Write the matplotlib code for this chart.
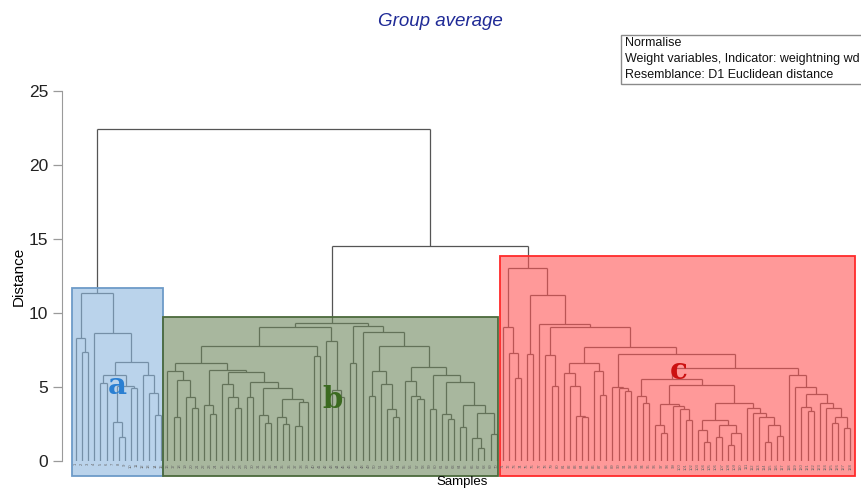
import matplotlib
matplotlib.use('Agg')
import matplotlib.pyplot as plt
from matplotlib.collections import LineCollection
from matplotlib.patches import Rectangle

plt.rcParams['font.family'] = ['Liberation Sans', 'DejaVu Sans']

# Dendrogram nodes are [distance, left, right]; a leaf is 0
a_left = [8.29, 0, [7.39, 0, 0]]
a_right = [8.67, 0,
           [6.71,
            [5.81, [5.3, 0, 0], [5.07, [2.66, 0, [1.64, 0, 0]], [4.91, 0, 0]]],
            [5.81, 0, [4.57, 0, [3.11, 0, 0]]]]]
clust_a = [11.33, a_left, a_right]

b_11 = [6.08, 0, [5.47, [2.95, 0, 0], [4.35, 0, [3.6, 0, 0]]]]
b_12 = [6.15, [3.78, 0, [3.2, 0, 0]],
        [6.04, [5.2, 0, [4.3, 0, [3.56, 0, 0]]],
         [5.36, [4.35, 0, 0],
          [4.9, [3.1, 0, [2.55, 0, 0]],
           [4.17, [2.95, 0, [2.5, 0, 0]], [4.0, [2.35, 0, 0], 0]]]]]]
b_1 = [9.03, [7.77, [6.6, b_11, b_12], [7.09, 0, 0]],
       [8.13, 0, [4.8, 0, [4.3, 0, 0]]]]
b_21 = [6.1, [4.39, 0, 0], [5.2, 0, [3.49, 0, [2.95, 0, 0]]]]
b_22 = [6.33, [5.43, 0, [4.39, 0, [4.2, 0, 0]]],
        [5.81, [3.49, 0, 0],
         [5.36, [3.18, 0, [2.84, 0, 0]],
          [3.78, [2.28, 0, 0], [3.22, [1.53, 0, [0.86, 0, 0]], [1.82, 0, 0]]]]]]
b_2 = [9.12, [6.6, 0, 0], [8.74, 0, [7.77, b_21, b_22]]]
clust_b = [9.3, b_1, b_2]

c_1 = [9.03, 0, [7.32, 0, [5.59, 0, 0]]]
c_21 = [6.6, [5.93, 0, [5.07, 0, [3.05, 0, [2.95, 0, 0]]]], [6.1, 0, [4.46, 0, 0]]]
c_22 = [4.98, 0, [4.9, 0, [4.7, 0, 0]]]
c_23 = [4.39, 0, [3.9, 0, 0]]
c_24 = [3.85, [2.43, 0, [1.87, 0, 0]], [3.75, 0, [3.5, 0, [2.8, 0, 0]]]]
c_25 = [3.9, [2.77, [2.09, 0, [1.3, 0, 0]], [2.43, [1.64, 0, 0], [1.91, [1.08, 0, 0], 0]]],
        [3.56, 0, [3.22, 0, [3.0, 0, [2.43, [1.3, 0, 0], [1.68, 0, 0]]]]]]
c_26 = [5.81, 0, [5.02, 0, [4.53, [3.67, 0, [3.4, 0, 0]],
                            [3.94, 0, [3.6, 0, [3.0, [2.6, 0, 0], [2.2, 0, 0]]]]]]]
c_2 = [11.2, [7.23, 0, 0],
       [9.26, 0, [9.03, [7.16, 0, [5.07, 0, 0]],
                  [7.72, c_21, [7.23, c_22, [6.26, [5.52, c_23, [5.14, c_24, c_25]], c_26]]]]]]
clust_c = [13.02, c_1, c_2]

bc_height = 14.53
root_height = 22.43

groups = ['a', 'b', 'c']
group_face = ['#8cb7de', '#6e875d', '#ff5555']
group_edge = ['#6d9bc8', '#4c6a3c', '#ff2a2a']
group_text = ['#2a7fd2', '#3b6a20', '#cc1111']
# letter position (x in leaf units, baseline distance)
letter_pos = [(6.8, 4.55), (42.0, 3.55), (98.9, 5.55)]
box_pad = [(0.65, 0.28), (0.72, 0.25), (0.42, 0.8)]
box_top = [0.36, 0.43, 0.83]


def count_leaves(node):
    if node == 0:
        return 1
    return count_leaves(node[1]) + count_leaves(node[2])


def walk(node, segs, counter):
    if node == 0:
        x = counter[0]
        counter[0] += 1
        return x, 0.0
    h, left, right = node
    xl, hl = walk(left, segs, counter)
    xr, hr = walk(right, segs, counter)
    segs.append([(xl, hl), (xl, h)])
    segs.append([(xr, hr), (xr, h)])
    segs.append([(xl, h), (xr, h)])
    return (xl + xr) / 2, h


tree = [root_height, clust_a, [bc_height, clust_b, clust_c]]
segs = []
walk(tree, segs, [0])
n_leaves = count_leaves(tree)

fig = plt.figure(figsize=(8.61, 4.88), dpi=100)
ax = fig.add_axes([62 / 861, 1 - 461 / 488, 798 / 861, 370 / 488])

ax.add_collection(LineCollection(segs, colors='#555555', linewidths=0.9, zorder=2))

# coloured group boxes
start = 0
for i, cl in enumerate([clust_a, clust_b, clust_c]):
    n = count_leaves(cl)
    x0 = start - box_pad[i][0]
    x1 = start + n - 1 + box_pad[i][1]
    ax.add_patch(Rectangle((x0, -1.0), x1 - x0, cl[0] + box_top[i] + 1.0,
                           facecolor=group_face[i], alpha=0.6, edgecolor='none',
                           zorder=3, clip_on=False))
    ax.add_patch(Rectangle((x0, -1.0), x1 - x0, cl[0] + box_top[i] + 1.0,
                           facecolor='none', edgecolor=group_edge[i], linewidth=1.3,
                           zorder=4, clip_on=False))
    lx, ly = letter_pos[i]
    ax.text(lx, ly, groups[i], color=group_text[i], fontsize=21, fontweight='bold',
            family='DejaVu Serif', ha='center', va='baseline', zorder=5)
    start += n

# sample labels under the leaves
for k in range(n_leaves):
    ax.text(k, -0.15, str(k + 1), rotation=90, fontsize=3.0, color='#666666',
            ha='center', va='top', zorder=5, clip_on=False)

ax.set_xlim(-2.3, 128.6)
ax.set_ylim(0, 25)
ax.set_yticks([0, 5, 10, 15, 20, 25])
ax.set_xticks([])
for s in ['top', 'right', 'bottom']:
    ax.spines[s].set_visible(False)
ax.spines['left'].set_color('#9a9a9a')
ax.tick_params(axis='y', length=6.5, width=0.9, color='#9a9a9a',
               labelsize=12.5, labelcolor='#222222', pad=3.5)
ax.set_ylabel('Distance', fontsize=11, labelpad=2)

fig.text(462 / 861, 0.5 / 488, 'Samples', fontsize=9.5, ha='center', va='bottom')
fig.text(440 / 861, 1 - 22 / 488, 'Group average', fontsize=13.5, style='italic',
         color='#1f2a96', ha='center', va='center')

# info box
fig.add_artist(Rectangle((621 / 861, 1 - 84 / 488), 260 / 861, 49 / 488,
                         transform=fig.transFigure, facecolor='white',
                         edgecolor='#8a8a8a', linewidth=1))
info = ['Normalise', 'Weight variables, Indicator: weightning wd',
        'Resemblance: D1 Euclidean distance']
for i, line in enumerate(info):
    fig.text(625 / 861, 1 - (43 + 16 * i) / 488, line, fontsize=9, color='#111111',
             ha='left', va='center')

fig.savefig('out.png', dpi=100)
